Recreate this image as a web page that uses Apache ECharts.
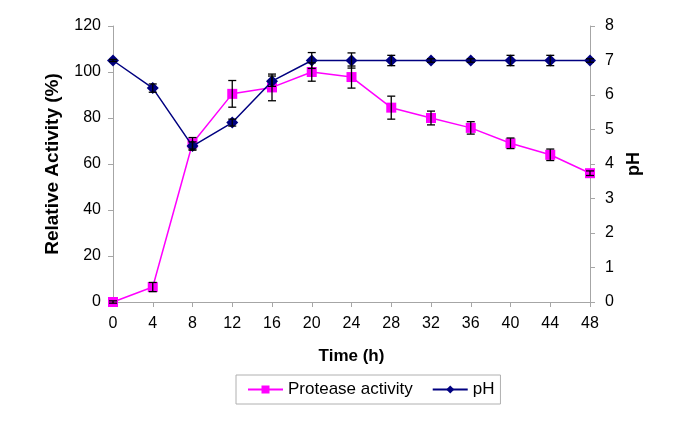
<!DOCTYPE html>
<html>
<head>
<meta charset="utf-8">
<script src="https://cdn.jsdelivr.net/npm/echarts@6/dist/echarts.min.js"></script>
<style>html,body{margin:0;padding:0;background:#fff;}#c{width:685px;height:436px;}</style>
</head>
<body>
<div id="c"></div>
<script>
const times = [0, 4, 8, 12, 16, 20, 24, 28, 32, 36, 40, 44, 48];
const protease = [0, 6.5, 69, 90.5, 93.3, 100, 97.8, 84.5, 80, 75.7, 69, 64, 56];
const proteaseErr = [0.5, 2, 2.5, 5.8, 5.8, 4, 4.8, 5, 3, 2.7, 2.3, 2.5, 1];
const ph = [7.0, 6.2, 4.52, 5.2, 6.4, 7.0, 7.0, 7.0, 7.0, 7.0, 7.0, 7.0, 7.0];
const phErr = [0.03, 0.12, 0.12, 0.1, 0.15, 0.23, 0.22, 0.15, 0.05, 0.05, 0.15, 0.15, 0.05];
const xTicks = { min: 0, max: 48, step: 4 };
const leftTicks = { min: 0, max: 120, step: 20 };
const rightTicks = { min: 0, max: 8, step: 1 };

const FONT = '"Liberation Sans", Arial, sans-serif';
const axisGray = '#a6a6a6';

function errData(vals, errs) {
  return times.map((t, i) => [t, vals[i] - errs[i], vals[i] + errs[i]]);
}
function errRender(params, api) {
  const x = api.value(0);
  const lo = api.coord([x, api.value(1)]);
  const hi = api.coord([x, api.value(2)]);
  const w = 4;
  const style = { stroke: '#000', lineWidth: 1.3 };
  return {
    type: 'group',
    children: [
      { type: 'line', shape: { x1: lo[0], y1: lo[1], x2: hi[0], y2: hi[1] }, style },
      { type: 'line', shape: { x1: lo[0] - w, y1: lo[1], x2: lo[0] + w, y2: lo[1] }, style },
      { type: 'line', shape: { x1: hi[0] - w, y1: hi[1], x2: hi[0] + w, y2: hi[1] }, style }
    ]
  };
}

const chart = echarts.init(document.getElementById('c'), null, { renderer: 'canvas' });
chart.setOption({
  animation: false,
  backgroundColor: '#fff',
  textStyle: { fontFamily: FONT, color: '#000' },
  grid: { left: 113, right: 95, top: 26, bottom: 134, containLabel: false },
  legend: {
    left: 236, top: 375,
    padding: [6, 6, 6, 11],
    borderColor: '#b0b0b0', borderWidth: 1,
    itemWidth: 35, itemHeight: 10, itemGap: 19,
    textStyle: { fontFamily: FONT, fontSize: 17, color: '#000' },
    data: ['Protease activity', 'pH']
  },
  xAxis: {
    type: 'value', min: xTicks.min, max: xTicks.max, interval: xTicks.step,
    name: 'Time (h)', nameLocation: 'middle', nameGap: 46,
    nameTextStyle: { fontFamily: FONT, fontSize: 17, fontWeight: 'bold', color: '#000' },
    axisLine: { show: true, lineStyle: { color: axisGray, width: 1 } },
    axisTick: { show: true, length: 5, inside: false, lineStyle: { color: axisGray } },
    axisLabel: { fontFamily: FONT, fontSize: 16, color: '#000', margin: 14 },
    splitLine: { show: false }
  },
  yAxis: [
    {
      type: 'value', position: 'left', min: leftTicks.min, max: leftTicks.max, interval: leftTicks.step,
      name: 'Relative Activity (%)', nameLocation: 'middle', nameGap: 51, nameRotate: 90,
      nameTextStyle: { fontFamily: FONT, fontSize: 19, fontWeight: 'bold', color: '#000' },
      axisLine: { show: true, lineStyle: { color: axisGray, width: 1 } },
      axisTick: { show: true, length: 5, lineStyle: { color: axisGray } },
      axisLabel: { fontFamily: FONT, fontSize: 16, color: '#000', margin: 12 },
      splitLine: { show: false }
    },
    {
      type: 'value', position: 'right', min: rightTicks.min, max: rightTicks.max, interval: rightTicks.step,
      name: 'pH', nameLocation: 'middle', nameGap: 33, nameRotate: 90,
      nameTextStyle: { fontFamily: FONT, fontSize: 18, fontWeight: 'bold', color: '#000', padding: [0, 0, 0, 0] },
      axisLine: { show: true, lineStyle: { color: axisGray, width: 1 } },
      axisTick: { show: true, length: 5, lineStyle: { color: axisGray } },
      axisLabel: { fontFamily: FONT, fontSize: 16, color: '#000', margin: 15 },
      splitLine: { show: false }
    }
  ],
  series: [
    {
      name: 'Protease activity', type: 'line', yAxisIndex: 0,
      data: times.map((t, i) => [t, protease[i]]),
      symbol: 'rect', symbolSize: 10,
      lineStyle: { color: '#ff00ff', width: 1.5 },
      itemStyle: { color: '#ff00ff' },
      z: 3
    },
    {
      name: 'pH', type: 'line', yAxisIndex: 1,
      data: times.map((t, i) => [t, ph[i]]),
      symbol: 'diamond', symbolSize: 12,
      lineStyle: { color: '#000080', width: 1.5 },
      itemStyle: { color: '#000080' },
      z: 4
    },
    {
      type: 'custom', yAxisIndex: 0, renderItem: errRender,
      data: errData(protease, proteaseErr), z: 5, silent: true
    },
    {
      type: 'custom', yAxisIndex: 1, renderItem: errRender,
      data: errData(ph, phErr), z: 5, silent: true
    }
  ]
});
</script>
</body>
</html>
